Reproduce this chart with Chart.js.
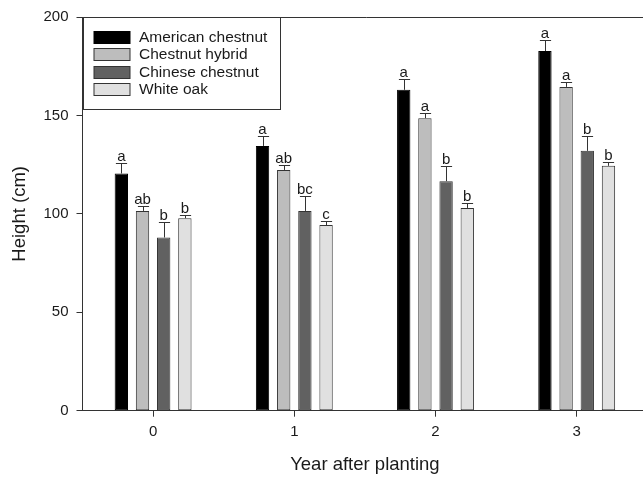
<!DOCTYPE html>
<html>
<head>
<meta charset="utf-8">
<script src="https://cdn.jsdelivr.net/npm/chart.js@4"></script>
<style>
  html, body { margin: 0; padding: 0; background: #fff; overflow: hidden; }
  #chart { display: block; }
</style>
</head>
<body>
<canvas id="chart" width="650" height="477"></canvas>
<script>
// ---------------- DATA ----------------
const years = ["0", "1", "2", "3"];
const seriesNames = ["American chestnut", "Chestnut hybrid", "Chinese chestnut", "White oak"];

const american = [120.5, 134.5, 163.0, 182.7];
const americanErr = [5.2, 5.3, 5.7, 5.6];
const americanLetters = ["a", "a", "a", "a"];

const hybrid = [101.5, 122.3, 148.6, 164.5];
const hybridErr = [2.5, 2.4, 2.5, 2.5];
const hybridLetters = ["ab", "ab", "a", "a"];

const chinese = [88.0, 101.5, 116.6, 132.0];
const chineseErr = [8.0, 7.5, 7.6, 7.6];
const chineseLetters = ["b", "bc", "b", "b"];

const whiteOak = [97.8, 94.3, 103.0, 124.4];
const whiteOakErr = [1.8, 2.1, 2.4, 2.0];
const whiteOakLetters = ["b", "c", "b", "b"];

const yTicks = [0, 50, 100, 150, 200];

const FONT = "'Liberation Sans', Arial, Helvetica, sans-serif";
const AXIS = "#333";
const TEXT = "#1a1a1a";

function series(label, data, err, letters, fill, border) {
    return {
        label, data, err, letters,
        backgroundColor: fill,
        borderColor: border,
        borderWidth: 1,
        borderSkipped: false
    };
}

// ---------------- PLUGINS ----------------
// error bars (upper only) + significance letters
const errorBars = {
    id: "errorBars",
    afterDatasetsDraw(chart) {
        const ctx = chart.ctx;
        const y = chart.scales.y;
        ctx.save();
        chart.data.datasets.forEach((ds, i) => {
            chart.getDatasetMeta(i).data.forEach((bar, j) => {
                const top = y.getPixelForValue(ds.data[j] + ds.err[j]);
                const x = Math.round(bar.x) + 0.5;
                const cap = bar.width * 0.42;
                ctx.strokeStyle = AXIS;
                ctx.lineWidth = 1;
                ctx.beginPath();
                ctx.moveTo(x, bar.y);
                ctx.lineTo(x, Math.round(top) + 0.5);
                ctx.moveTo(x - cap, Math.round(top) + 0.5);
                ctx.lineTo(x + cap, Math.round(top) + 0.5);
                ctx.stroke();

                ctx.fillStyle = TEXT;
                ctx.font = "15px " + FONT;
                ctx.textAlign = "center";
                ctx.textBaseline = "alphabetic";
                ctx.fillText(ds.letters[j], bar.x, top - 2);
            });
        });
        ctx.restore();
    }
};

// top frame line + boxed legend in the upper-left corner
const frameLegend = {
    id: "frameLegend",
    afterDraw(chart) {
        const ctx = chart.ctx;
        const a = chart.chartArea;
        ctx.save();
        ctx.strokeStyle = AXIS;
        ctx.lineWidth = 1;
        ctx.beginPath();
        ctx.moveTo(a.left, Math.round(a.top) + 0.5);
        ctx.lineTo(chart.width, Math.round(a.top) + 0.5);
        ctx.stroke();

        // legend box
        const bx = Math.round(a.left) + 0.5, by = Math.round(a.top) + 0.5;
        ctx.fillStyle = "#fff";
        ctx.fillRect(bx, by, 197, 92);
        ctx.strokeRect(bx, by, 197, 92);

        ctx.font = "15.5px " + FONT;
        ctx.textAlign = "left";
        ctx.textBaseline = "middle";
        chart.data.datasets.forEach((ds, i) => {
            const sy = Math.round(a.top + 14 + i * 17.3) + 0.5;
            ctx.fillStyle = ds.backgroundColor;
            ctx.fillRect(bx + 10.5, sy, 36, 12);
            ctx.strokeStyle = ds.borderColor;
            ctx.strokeRect(bx + 10.5, sy, 36, 12);
            ctx.fillStyle = TEXT;
            ctx.fillText(ds.label, bx + 55.5, sy + 6.5);
        });
        ctx.restore();
    }
};

// ---------------- CHART ----------------
new Chart(document.getElementById("chart"), {
    type: "bar",
    data: {
        labels: years,
        datasets: [
            series(seriesNames[0], american, americanErr, americanLetters, "#000000", "#000000"),
            series(seriesNames[1], hybrid, hybridErr, hybridLetters, "#bdbdbd", "#333333"),
            series(seriesNames[2], chinese, chineseErr, chineseLetters, "#616161", "#333333"),
            series(seriesNames[3], whiteOak, whiteOakErr, whiteOakLetters, "#e0e0e0", "#333333")
        ]
    },
    options: {
        responsive: false,
        animation: false,
        layout: { padding: { top: 16, right: 2.7, bottom: 0, left: 0 } },
        datasets: { bar: { categoryPercentage: 0.6, barPercentage: 0.63 } },
        plugins: { legend: { display: false }, tooltip: { enabled: false } },
        scales: {
            x: {
                grid: { display: true, offset: false, drawOnChartArea: false, drawTicks: true, tickLength: 6, color: AXIS },
                border: { display: true, color: AXIS, width: 1 },
                ticks: { color: TEXT, font: { family: FONT, size: 15 }, padding: 6 },
                title: {
                    display: true, text: "Year after planting", color: TEXT,
                    font: { family: FONT, size: 18.5 }, padding: { top: 0, bottom: 1 }
                },
                afterFit(scale) { scale.height = 66.3; }
            },
            y: {
                min: 0, max: 200,
                afterBuildTicks(scale) { scale.ticks = yTicks.map(v => ({ value: v })); },
                grid: { display: true, drawOnChartArea: false, drawTicks: true, tickLength: 6, color: AXIS },
                border: { display: true, color: AXIS, width: 1 },
                ticks: { color: TEXT, font: { family: FONT, size: 15 }, padding: 8 },
                title: {
                    display: true, text: "Height (cm)", color: TEXT,
                    font: { family: FONT, size: 18.5 }, padding: { top: 9, bottom: 0 }
                },
                afterFit(scale) { scale.width = 82.5; }
            }
        }
    },
    plugins: [errorBars, frameLegend]
});
</script>
</body>
</html>
